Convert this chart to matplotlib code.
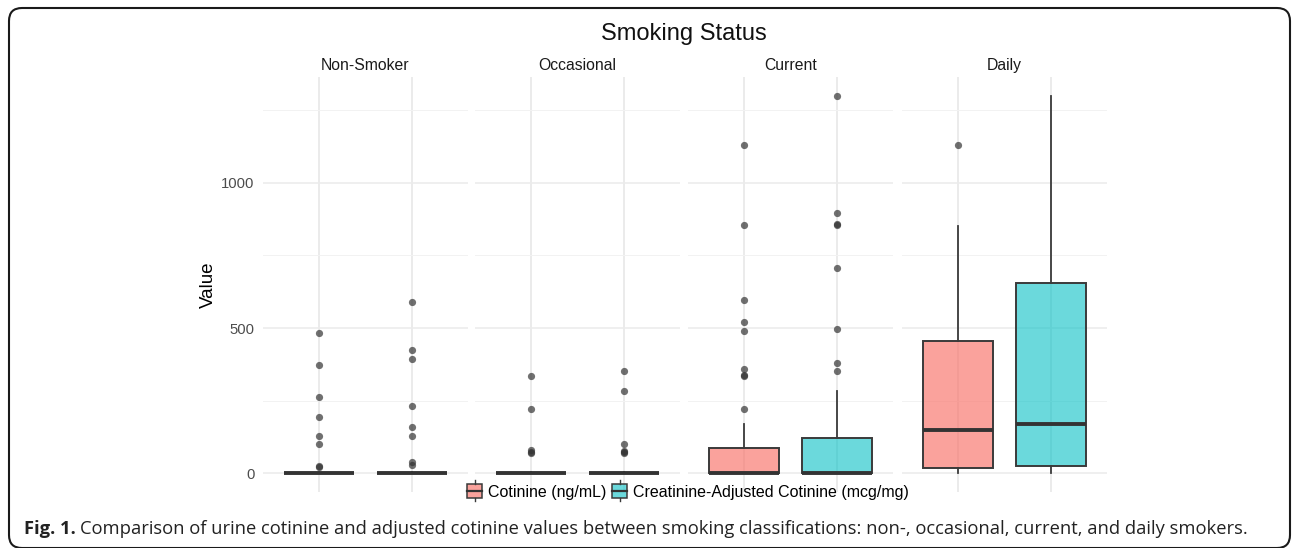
import matplotlib
matplotlib.use("Agg")
import matplotlib.pyplot as plt
from matplotlib.patches import Rectangle, FancyBboxPatch
from matplotlib.lines import Line2D
from matplotlib.legend_handler import HandlerBase
from matplotlib.colors import to_rgba
from matplotlib.transforms import IdentityTransform

# ---------------- data ----------------
panels = ["Non-Smoker", "Occasional", "Current", "Daily"]
series = ["Cotinine (ng/mL)", "Creatinine-Adjusted Cotinine (mcg/mg)"]

# box statistics per panel: [cotinine, adjusted]
q1 = [[0, 0], [0, 0], [0, 0], [16, 25]]
med = [[0.5, 0.5], [0.5, 0.5], [1, 1], [148, 171]]
q3 = [[1.5, 1.5], [1.5, 1.5], [85, 122], [455, 654]]
whislo = [[0, 0], [0, 0], [0, 0], [2, 2]]
whishi = [[3, 3], [3, 3], [169, 283], [853, 1300]]
fliers = [
    [[482, 372, 263, 192, 128, 101, 25, 22],
     [588, 423, 393, 232, 160, 128, 39, 28]],
    [[334, 222, 79, 74, 70],
     [352, 284, 99, 77, 72, 70]],
    [[1131, 855, 597, 520, 490, 360, 338, 334, 221],
     [1300, 895, 860, 855, 708, 495, 378, 352]],
    [[1131],
     []],
]
yticks = [0, 500, 1000]
yminor = [250, 750, 1250]

fills = [to_rgba("#F8766D", 0.68), to_rgba("#00BFC4", 0.58)]
edge = "#3a3a3a"

W, H = 1292, 548
fig = plt.figure(figsize=(W / 100, H / 100), dpi=100)
plt.rcParams['font.family'] = ['Liberation Sans', 'DejaVu Sans']

# frame (pixel coordinates, origin bottom-left)
frame = FancyBboxPatch((9, H - 548), 1290 - 9, 548 - 8,
                       boxstyle="round,pad=0,rounding_size=13",
                       transform=IdentityTransform(), fill=False,
                       edgecolor="#1a1a1a", linewidth=1.5, clip_on=False)
fig.patches.append(frame)

lefts = [263, 475, 688, 902]
pw = 205
top_px, bot_px = 77, 492
axes = []
for i, name in enumerate(panels):
    ax = fig.add_axes([lefts[i] / W, 1 - bot_px / H, pw / W, (bot_px - top_px) / H])
    axes.append(ax)
    ax.set_xlim(0.4, 2.6)
    ax.set_ylim(-65, 1365)
    for s in ax.spines.values():
        s.set_visible(False)
    ax.set_yticks(yticks)
    ax.set_yticks(yminor, minor=True)
    ax.set_xticks([1, 2])
    ax.grid(True, which='major', color='#EBEBEB', linewidth=1.1)
    ax.grid(True, which='minor', axis='y', color='#F2F2F2', linewidth=0.7)
    ax.set_axisbelow(True)
    ax.tick_params(length=0, labelbottom=False)
    ax.tick_params(which='minor', length=0)
    if i == 0:
        ax.tick_params(axis='y', labelsize=10.7, labelcolor='#4D4D4D', pad=6)
        ax.set_ylabel("Value", fontsize=13.5, labelpad=3)
    else:
        ax.tick_params(axis='y', labelleft=False)
    ax.set_title(name, fontsize=11.3, color='#1A1A1A', pad=5)

    stats = []
    for j in range(2):
        stats.append(dict(med=med[i][j], q1=q1[i][j], q3=q3[i][j],
                          whislo=whislo[i][j], whishi=whishi[i][j],
                          fliers=fliers[i][j]))
    bp = ax.bxp(stats, positions=[1, 2], widths=0.75, patch_artist=True,
                showcaps=False,
                boxprops=dict(edgecolor=edge, linewidth=1.4),
                whiskerprops=dict(color=edge, linewidth=1.3),
                medianprops=dict(color='#333333', linewidth=2.8, solid_capstyle='butt'),
                flierprops=dict(marker='o', markerfacecolor=(0.2, 0.2, 0.2, 0.7),
                                markeredgecolor='none', markersize=5.2))
    for b, fc in zip(bp['boxes'], fills):
        b.set_facecolor(fc)

fig.text(684 / W, 1 - 34 / H, "Smoking Status", ha='center', va='center',
         fontsize=17, color='#111111')


class BoxHandler(HandlerBase):
    def create_artists(self, legend, orig_handle, xdescent, ydescent, width, height, fontsize, trans):
        fc = orig_handle.get_facecolor()
        x0, y0 = -xdescent, -ydescent
        h = height * 1.1
        yb = y0 - (h - height) / 2
        r = Rectangle((x0, yb), width, h, facecolor=fc, edgecolor=edge,
                      linewidth=1.1, transform=trans)
        m = Line2D([x0, x0 + width], [yb + h / 2] * 2, color='#333333', lw=1.6, transform=trans)
        w1 = Line2D([x0 + width / 2] * 2, [yb + h, yb + h + 2.5], color=edge, lw=1.0, transform=trans)
        w2 = Line2D([x0 + width / 2] * 2, [yb - 2.5, yb], color=edge, lw=1.0, transform=trans)
        return [r, m, w1, w2]


handles = [Rectangle((0, 0), 1, 1, facecolor=fc) for fc in fills]
fig.legend(handles, series, handler_map={Rectangle: BoxHandler()},
           loc='center', bbox_to_anchor=(688 / W, 1 - 492 / H), ncol=2,
           frameon=False, fontsize=11.5, handlelength=0.95, handleheight=0.85,
           handletextpad=0.35, columnspacing=0.35, borderpad=0)

cap_font = ['Open Sans', 'DejaVu Sans']
t1 = fig.text(24 / W, 1 - 529 / H, "Fig. 1.", ha='left', va='center',
              fontsize=13.2, fontweight='bold', family=cap_font, color='#222222')
fig.canvas.draw()
bb = t1.get_window_extent()
fig.text((bb.x1 + 4) / W, 1 - 529 / H,
         "Comparison of urine cotinine and adjusted cotinine values between smoking classifications: non-, occasional, current, and daily smokers.",
         ha='left', va='center', fontsize=13.2, family=cap_font, color='#222222')

fig.savefig("out.png", dpi=100)
